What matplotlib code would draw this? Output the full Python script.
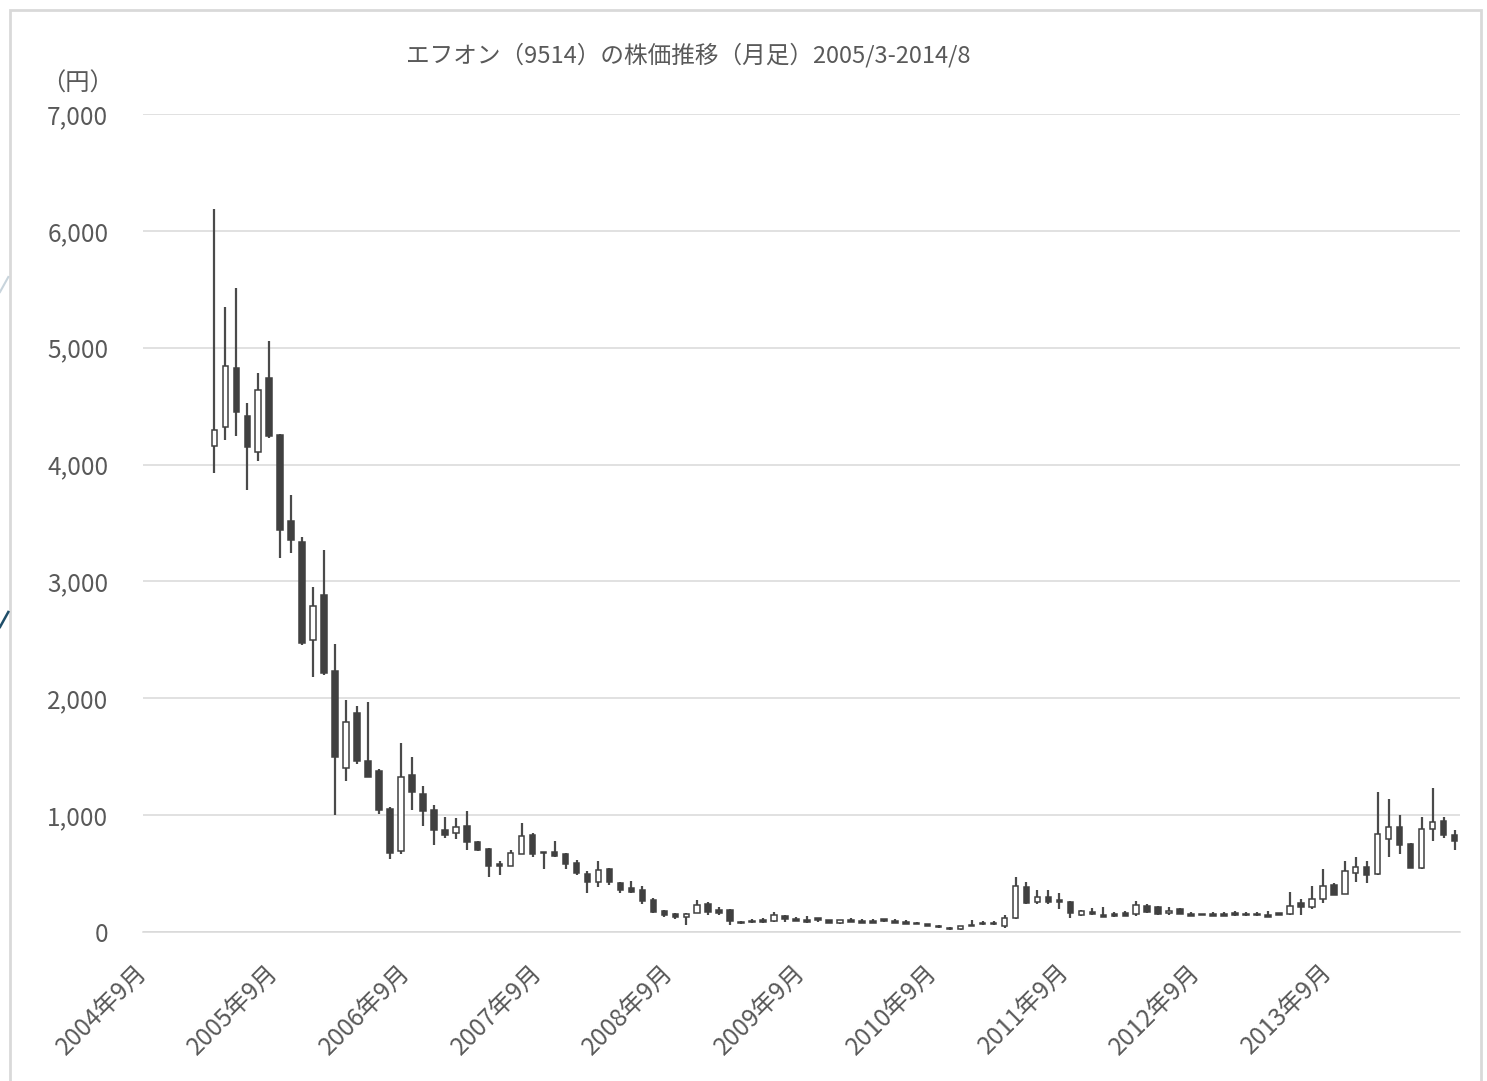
import matplotlib
matplotlib.use("Agg")
import matplotlib.pyplot as plt
from matplotlib.lines import Line2D
from matplotlib.patches import Rectangle
import numpy as np

plt.rcParams['font.family'] = ['Noto Sans CJK JP', 'DejaVu Sans']

# 月足データ 2005/3 - 2014/8 (チャートから読み取り)
months = ["2005/3", "2005/4", "2005/5", "2005/6", "2005/7", "2005/8", "2005/9", "2005/10", "2005/11", "2005/12",
          "2006/1", "2006/2", "2006/3", "2006/4", "2006/5", "2006/6", "2006/7", "2006/8", "2006/9", "2006/10", "2006/11", "2006/12",
          "2007/1", "2007/2", "2007/3", "2007/4", "2007/5", "2007/6", "2007/7", "2007/8", "2007/9", "2007/10", "2007/11", "2007/12",
          "2008/1", "2008/2", "2008/3", "2008/4", "2008/5", "2008/6", "2008/7", "2008/8", "2008/9", "2008/10", "2008/11", "2008/12",
          "2009/1", "2009/2", "2009/3", "2009/4", "2009/5", "2009/6", "2009/7", "2009/8", "2009/9", "2009/10", "2009/11", "2009/12",
          "2010/1", "2010/2", "2010/3", "2010/4", "2010/5", "2010/6", "2010/7", "2010/8", "2010/9", "2010/10", "2010/11", "2010/12",
          "2011/1", "2011/2", "2011/3", "2011/4", "2011/5", "2011/6", "2011/7", "2011/8", "2011/9", "2011/10", "2011/11", "2011/12",
          "2012/1", "2012/2", "2012/3", "2012/4", "2012/5", "2012/6", "2012/7", "2012/8", "2012/9", "2012/10", "2012/11", "2012/12",
          "2013/1", "2013/2", "2013/3", "2013/4", "2013/5", "2013/6", "2013/7", "2013/8", "2013/9", "2013/10", "2013/11", "2013/12",
          "2014/1", "2014/2", "2014/3", "2014/4", "2014/5", "2014/6", "2014/7", "2014/8"]

open_ = [4160, 4320, 4830, 4415, 4110, 4740, 4250, 3520, 3335, 2500,
         2880, 2235, 1400, 1870, 1465, 1380, 1050, 695, 1340, 1185, 1045, 875,
         845, 910, 773, 713, 580, 565, 667, 830, 687, 687, 667, 588,
         493, 425, 536, 422, 373, 360, 274, 180, 154, 126, 160, 237,
         188, 188, 88, 97, 103, 90, 140, 111, 103, 117, 103, 74,
         103, 97, 97, 108, 94, 88, 80, 66, 54, 37, 22, 63,
         80, 80, 55, 117, 382, 260, 302, 274, 254, 148, 170, 145,
         154, 163, 151, 222, 211, 160, 194, 154, 151, 154, 154, 160,
         158, 154, 145, 160, 150, 245, 217, 280, 402, 325, 502, 553,
         496, 793, 895, 750, 545, 881, 950, 830]

high = [6190, 5346, 5508, 4530, 4780, 5060, 4258, 3737, 3383, 2950,
        3269, 2462, 1985, 1934, 1971, 1392, 1072, 1615, 1500, 1249, 1087, 987,
        973, 1038, 781, 722, 608, 702, 935, 850, 687, 781, 673, 616,
        525, 610, 545, 430, 436, 394, 294, 188, 160, 165, 274, 259,
        211, 194, 92, 108, 117, 168, 142, 131, 134, 117, 105, 103,
        117, 108, 108, 110, 108, 103, 82, 68, 56, 39, 54, 103,
        94, 90, 145, 473, 430, 359, 359, 331, 268, 188, 202, 217,
        168, 180, 268, 240, 225, 217, 205, 174, 153, 174, 174, 182,
        175, 174, 182, 162, 345, 280, 396, 536, 422, 610, 644, 610,
        1200, 1138, 1001, 764, 987, 1230, 987, 873]

low = [3930, 4210, 4244, 3782, 4034, 4224, 3197, 3240, 2456, 2180,
       2199, 998, 1295, 1438, 1324, 1010, 625, 667, 1044, 907, 742, 802,
       793, 702, 696, 473, 488, 565, 667, 639, 536, 644, 536, 488,
       336, 388, 402, 336, 331, 240, 160, 126, 111, 60, 160, 145,
       145, 60, 68, 74, 80, 85, 88, 94, 80, 83, 74, 72,
       83, 73, 73, 88, 74, 68, 66, 54, 37, 20, 20, 49,
       63, 60, 37, 108, 237, 243, 243, 194, 122, 137, 145, 126,
       131, 137, 137, 160, 145, 145, 151, 137, 145, 137, 137, 140,
       140, 140, 126, 145, 145, 145, 194, 251, 317, 325, 430, 416,
       488, 644, 667, 545, 536, 778, 802, 702]

close = [4300, 4840, 4450, 4150, 4640, 4245, 3440, 3355, 2470, 2790,
         2215, 1500, 1800, 1460, 1325, 1045, 680, 1330, 1200, 1035, 875, 830,
         895, 768, 702, 565, 568, 673, 820, 667, 673, 650, 580, 502,
         425, 530, 425, 360, 340, 265, 170, 145, 125, 151, 231, 175,
         160, 90, 74, 83, 85, 145, 108, 95, 85, 103, 76, 103,
         85, 75, 75, 90, 76, 70, 68, 55, 39, 22, 52, 50,
         65, 65, 123, 394, 251, 297, 259, 255, 160, 178, 150, 128,
         133, 139, 231, 174, 151, 182, 153, 139, 146, 140, 140, 142,
         142, 142, 128, 147, 225, 217, 280, 394, 320, 522, 553, 488,
         836, 895, 744, 545, 881, 944, 830, 779]

tick_labels = ["2004年9月", "2005年9月", "2006年9月", "2007年9月", "2008年9月",
               "2009年9月", "2010年9月", "2011年9月", "2012年9月", "2013年9月"]
y_ticks = [0, 1000, 2000, 3000, 4000, 5000, 6000, 7000]

BASE_Y, BASE_M = 2004, 9


def month_index(s):
    y, m = s.replace("年", "/").replace("月", "").split("/")
    return (int(y) - BASE_Y) * 12 + int(m) - BASE_M


x = np.array([month_index(m) for m in months])
o = np.array(open_, dtype=float)
h = np.array(high, dtype=float)
l = np.array(low, dtype=float)
c = np.array(close, dtype=float)

fig = plt.figure(figsize=(14.87, 10.81), dpi=100)
ax = fig.add_axes([143 / 1487, 1 - 932 / 1081, (1460 - 143) / 1487, (932 - 114) / 1081])

dark = "#404040"
up = c >= o
body_bot = np.minimum(o, c)
body_h = np.maximum(np.abs(c - o), 12)

ax.vlines(x, l, h, color="#4a4a4a", linewidth=1.6, zorder=2)
ax.bar(x[up], body_h[up], bottom=body_bot[up], width=0.5, color="white",
       edgecolor=dark, linewidth=1.1, zorder=3)
ax.bar(x[~up], body_h[~up], bottom=body_bot[~up], width=0.5, color=dark,
       edgecolor=dark, linewidth=1.1, zorder=3)

ax.set_xlim(-0.5, 119.5)
ax.set_ylim(0, 7000)
ax.set_yticks(y_ticks)
ax.set_yticklabels([f"{v:,}" for v in y_ticks])
ax.set_xticks([month_index(t) for t in tick_labels])
ax.set_xticklabels(tick_labels, rotation=45, ha="right", va="baseline",
                   rotation_mode="anchor")

ax.grid(axis="y", color="#d9d9d9", linewidth=1.1)
ax.set_axisbelow(True)
for sp in ["top", "right", "left"]:
    ax.spines[sp].set_visible(False)
ax.spines["bottom"].set_color("#d9d9d9")
ax.spines["bottom"].set_linewidth(1.1)
ax.tick_params(axis="y", length=0, pad=25, labelsize=17.5, labelcolor="#595959")
ax.tick_params(axis="x", length=0, pad=30, labelsize=17.5, labelcolor="#595959")

fig.text(688 / 1487, 1 - 55 / 1081, "エフオン（9514）の株価推移（月足）2005/3-2014/8",
         ha="center", va="center", fontsize=17, color="#595959")
fig.text(78 / 1487, 1 - 84 / 1081, "（円）", ha="center", va="center",
         fontsize=17.5, color="#595959")

# 外枠と左端の装飾線
fig.patches.append(Rectangle((10 / 1487, -0.05), 1471 / 1487, 1.05 - 10 / 1081,
                             transform=fig.transFigure, fill=False,
                             edgecolor="#d9d9d9", linewidth=2))
fig.lines.append(Line2D([0, 8.3 / 1487], [1 - 292 / 1081, 1 - 277 / 1081],
                        transform=fig.transFigure, color="#c8d4dc", linewidth=1.5))
fig.lines.append(Line2D([0, 8.3 / 1487], [1 - 627 / 1081, 1 - 612 / 1081],
                        transform=fig.transFigure, color="#1f4e69", linewidth=1.8))

fig.savefig("out.png", dpi=100)
